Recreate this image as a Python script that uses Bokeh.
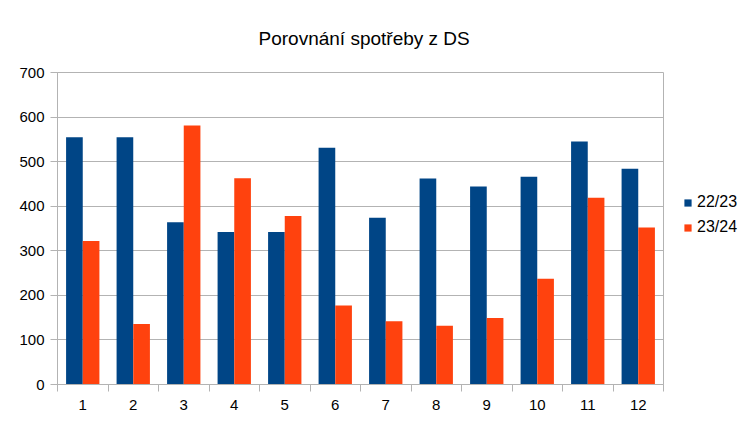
from bokeh.plotting import figure
from bokeh.models import Legend, LegendItem, FixedTicker, ColumnDataSource, Range1d
from bokeh.layouts import row
from bokeh.embed import file_html
from bokeh.resources import INLINE
from bokeh.transform import dodge

months = ["1", "2", "3", "4", "5", "6", "7", "8", "9", "10", "11", "12"]
series_names = ["22/23", "23/24"]
s2223 = [555, 555, 364, 342, 342, 531, 374, 462, 444, 466, 545, 484]
s2324 = [322, 136, 581, 463, 378, 177, 142, 132, 149, 237, 419, 352]
yticks = [0, 100, 200, 300, 400, 500, 600, 700]
title_text = "Porovnání spotřeby z DS"
colors = ["#004586", "#ff420e"]

xs = list(range(1, len(months) + 1))
src = ColumnDataSource(dict(x=xs, a=s2223, b=s2324))

FONT = "Liberation Sans"
GRID = "#b3b3b3"

p = figure(width=664, height=424, output_backend="svg", toolbar_location=None,
           x_range=Range1d(0.5, len(months) + 0.5), y_range=Range1d(0, 700),
           min_border_left=57, min_border_right=1, min_border_top=72, min_border_bottom=40)
p.background_fill_color = "white"
p.border_fill_color = "white"
p.outline_line_color = GRID

r1 = p.vbar(x=dodge("x", -0.165), top="a", width=0.33, source=src,
            fill_color=colors[0], line_color=None)
r2 = p.vbar(x=dodge("x", 0.165), top="b", width=0.33, source=src,
            fill_color=colors[1], line_color=None)

p.title.text = title_text
p.title.text_font = FONT
p.title.text_font_size = "19px"
p.title.text_font_style = "normal"
p.title.text_color = "#000000"
p.title.align = "left"
p.title.offset = 201
p.title.standoff = 48

# x axis
p.xaxis.ticker = FixedTicker(ticks=xs, minor_ticks=[i + 0.5 for i in range(0, len(months) + 1)])
p.xaxis.major_label_overrides = {x: m for x, m in zip(xs, months)}
p.xaxis.major_tick_out = 0
p.xaxis.major_tick_in = 0
p.xaxis.minor_tick_out = 7
p.xaxis.minor_tick_in = 0
p.xaxis.minor_tick_line_color = GRID
p.xaxis.axis_line_color = GRID
p.xaxis.major_label_standoff = 8
p.xaxis.major_label_text_font = FONT
p.xaxis.major_label_text_font_size = "15px"
p.xaxis.major_label_text_color = "#000000"

# y axis
p.yaxis.ticker = FixedTicker(ticks=yticks)
p.yaxis.major_tick_out = 7
p.yaxis.major_tick_in = 0
p.yaxis.minor_tick_line_color = None
p.yaxis.major_tick_line_color = GRID
p.yaxis.axis_line_color = GRID
p.yaxis.major_label_standoff = 6
p.yaxis.major_label_text_font = FONT
p.yaxis.major_label_text_font_size = "15px"
p.yaxis.major_label_text_color = "#000000"

p.xgrid.grid_line_color = None
p.ygrid.grid_line_color = GRID
p.ygrid.ticker = FixedTicker(ticks=yticks)

# legend panel (separate narrow figure to the right of the plot); its bars lie outside its view
p2 = figure(width=83, height=424, output_backend="svg", toolbar_location=None,
            x_range=Range1d(-3, -2), y_range=Range1d(0, 1), title=None,
            x_axis_location=None, y_axis_location=None, min_border=0)
p2.outline_line_color = None
p2.grid.visible = False
p2.background_fill_color = "white"
p2.border_fill_color = "white"
lr1 = p2.vbar(x="x", top="a", width=0.33, source=src, fill_color=colors[0], line_color=None)
lr2 = p2.vbar(x="x", top="b", width=0.33, source=src, fill_color=colors[1], line_color=None)

legend = Legend(items=[LegendItem(label=series_names[0], renderers=[lr1]),
                       LegendItem(label=series_names[1], renderers=[lr2])],
                location=(19, 148), orientation="vertical", margin=0, padding=0,
                glyph_width=9, glyph_height=9, label_standoff=5, spacing=7,
                label_height=16, border_line_color=None, background_fill_alpha=0,
                label_text_font=FONT, label_text_font_size="16px", label_text_color="#000000")
p2.add_layout(legend, "center")

layout = row(p, p2, spacing=0)
open("out.html", "w").write(file_html(layout, INLINE))
